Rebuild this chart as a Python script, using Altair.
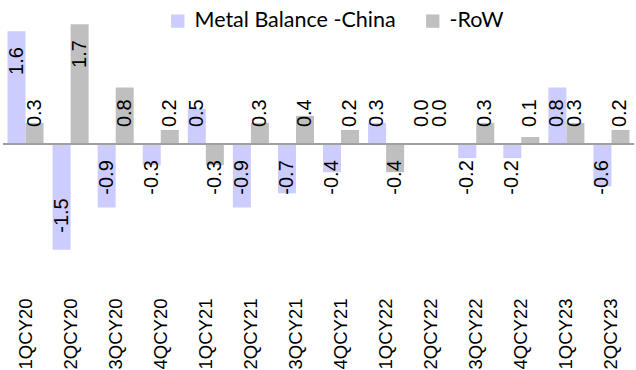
import altair as alt
import pandas as pd

quarters = ["1QCY20", "2QCY20", "3QCY20", "4QCY20", "1QCY21", "2QCY21", "3QCY21",
            "4QCY21", "1QCY22", "2QCY22", "3QCY22", "4QCY22", "1QCY23", "2QCY23"]
china = [1.6, -1.5, -0.9, -0.3, 0.5, -0.9, -0.7, -0.4, 0.3, 0.0, -0.2, -0.2, 0.8, -0.6]
row = [0.3, 1.7, 0.8, 0.2, -0.3, 0.3, 0.4, 0.2, -0.4, 0.0, 0.3, 0.1, 0.3, 0.2]
series_names = ["Metal Balance -China", "-RoW"]
series_colors = ["#CCCCFF", "#BFBFBF"]

rows = []
for i, q in enumerate(quarters):
    rows.append({"q": q, "s": series_names[0], "v": china[i], "txt": f"{china[i]:.1f}"})
    rows.append({"q": q, "s": series_names[1], "v": row[i], "txt": f"{row[i]:.1f}"})
df = pd.DataFrame(rows)

SANS = "Arial, Liberation Sans, sans-serif"

xenc = alt.X("q:N", sort=quarters,
             scale=alt.Scale(paddingInner=0.2, paddingOuter=0.1),
             axis=alt.Axis(title=None, labelAngle=-90, domain=False, ticks=False,
                           labelPadding=2, labelFont=SANS, labelFontSize=18.5,
                           labelColor="#000000"))
xoff = alt.XOffset("s:N", sort=series_names, scale=alt.Scale(paddingInner=0, paddingOuter=0))
yscale = alt.Scale(domain=[-2.156, 2.043], nice=False, zero=False)

base = alt.Chart(df)

bars = base.mark_bar(size=18).encode(
    x=xenc,
    xOffset=xoff,
    y=alt.Y("v:Q", scale=yscale, axis=None),
    y2=alt.Y2(datum=0),
    color=alt.Color("s:N", sort=series_names,
                    scale=alt.Scale(domain=series_names, range=series_colors),
                    legend=alt.Legend(title=None, orient="none", direction="horizontal",
                                      legendX=164, legendY=10, symbolType="square",
                                      symbolSize=177, symbolStrokeWidth=0,
                                      symbolOpacity=1, labelFont="Lato",
                                      labelFontSize=21.5, labelColor="#000000",
                                      labelOffset=6, columnPadding=26, padding=0,
                                      labelLimit=400)),
)

lab = base.transform_calculate(
    lp="datum.v >= 0 ? (datum.v > 1.2 ? datum.v - 0.62 : 0.24) : (datum.v < -1.2 ? datum.v + 0.73 : -0.23)",
)

pos_text = lab.transform_filter("datum.v >= 0").mark_text(
    angle=270, align="left", baseline="middle", font=SANS,
    fontSize=20, color="#000000").encode(
    x=xenc, xOffset=xoff, y=alt.Y("lp:Q", scale=yscale, axis=None), text="txt:N")

neg_text = lab.transform_filter("datum.v < 0").mark_text(
    angle=270, align="right", baseline="middle", font=SANS,
    fontSize=20, color="#000000").encode(
    x=xenc, xOffset=xoff, y=alt.Y("lp:Q", scale=yscale, axis=None), text="txt:N")

zero = alt.Chart(pd.DataFrame({"z": [0]})).mark_rule(color="#A0A0A0", strokeWidth=2).encode(
    y=alt.Y("z:Q", scale=yscale, axis=None))

chart = alt.layer(bars, zero, pos_text, neg_text).properties(
    width=631, height=296,
    padding={"left": 3, "top": 0, "right": 2, "bottom": 74},
    autosize="none",
).configure_view(stroke=None)

chart.save("out.html", embed_options={"renderer": "svg", "actions": False})
